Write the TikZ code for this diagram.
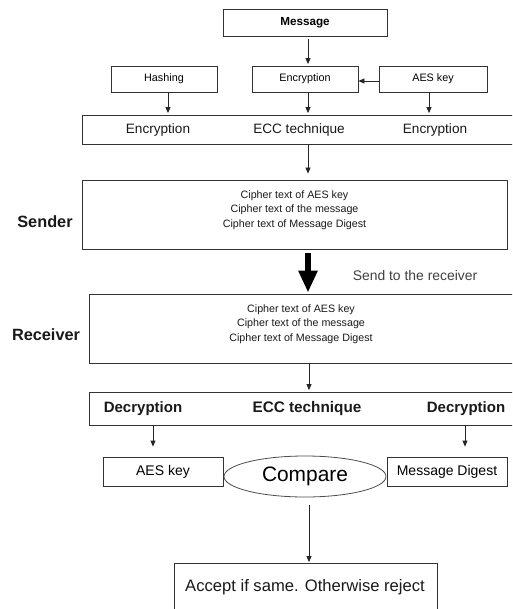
\documentclass[tikz,border=0pt]{standalone}
\usepackage{fontspec}
\setmainfont{Liberation Sans}
\usetikzlibrary{arrows.meta,shapes.geometric,calc}
\newcommand{\pxf}[1]{\fontsize{#1}{#1}\selectfont}
\begin{document}
\begin{tikzpicture}[x=1pt,y=-1pt,
  box/.style={draw=black!80, line width=0.8pt, inner sep=0pt, rectangle},
  arr/.style={draw=black!85, line width=0.8pt, -{Triangle[length=6pt,width=5pt]}, shorten <=3pt, shorten >=1.5pt},
  bigarr/.style={draw=black, line width=6pt, -{Triangle[length=22pt,width=18pt]}},
  txt/.style={inner sep=0pt, text=black!90},
  cipher/.style={txt, font=\fontsize{10.7}{14.3}\selectfont, align=center}]
\useasboundingbox (0,0) rectangle (512,609);
\clip (0,0) rectangle (512,609);

% top part
\node[box, minimum width=164, minimum height=27, font=\pxf{11.7}\bfseries] (msg) at (305,22.5) {Message};
\node[box, minimum width=106, minimum height=26, font=\pxf{10.8}] (hash) at (164,79) {Hashing};
\node[box, minimum width=106, minimum height=26, font=\pxf{10.8}] (enc) at (305,79) {Encryption};
\node[box, minimum width=108, minimum height=26, font=\pxf{10.8}] (aes) at (433,79) {AES key};

\node[box, minimum width=440, minimum height=29] (erow) at (302,129.5) {};
\node[txt, font=\pxf{13.6}] (e1) at (158,130) {Encryption};
\node[txt, font=\pxf{13.6}] (ecc) at (299,130) {ECC technique};
\node[txt, font=\pxf{13.6}] (e2) at (435,130) {Encryption};

\draw[arr] ([xshift=3pt]msg.south) -- ([xshift=3pt]enc.north);
\draw[arr, shorten <=0pt, shorten >=0pt] ([yshift=-2pt]aes.west) -- ([yshift=-2pt]enc.east);
\draw[arr, shorten <=0pt] ([xshift=4pt]hash.south) -- ([xshift=4pt]hash.south |- erow.north);
\draw[arr, shorten <=0pt] ([xshift=3pt]enc.south) -- ([xshift=3pt]enc.south |- erow.north);
\draw[arr, shorten <=0pt] ([xshift=-4pt]aes.south) -- ([xshift=-4pt]aes.south |- erow.north);

% sender
\node[box, minimum width=425, minimum height=69] (sbox) at (294.5,214.5) {};
\node[cipher] (stext) at ([yshift=4.5pt]sbox.center)
  {Cipher text of AES key\\Cipher text of the message\\Cipher text of Message Digest};
\node[txt, font=\pxf{16.3}\bfseries] (slab) at (45,222) {Sender};
\draw[arr, shorten <=0pt, shorten >=6pt] ([xshift=6pt]erow.south) -- ([xshift=6pt]erow.south |- sbox.north);

% transfer
\node[box, minimum width=433, minimum height=69] (rbox) at (305.5,328.5) {};
\draw[bigarr, shorten <=4pt, shorten >=1pt] ([xshift=13.5pt]sbox.south) -- ([xshift=13.5pt]sbox.south |- rbox.north);
\node[txt, font=\pxf{13.9}, text=black!75] (send) at (415,276) {Send to the receiver};

% receiver
\node[cipher] (rtext) at ([xshift=-4.5pt,yshift=4.5pt]rbox.center)
  {Cipher text of AES key\\Cipher text of the message\\Cipher text of Message Digest};
\node[txt, font=\pxf{16.3}\bfseries] (rlab) at (46,335) {Receiver};

\node[box, minimum width=433, minimum height=33] (drow) at (305.5,408.5) {};
\node[txt, font=\pxf{15}\bfseries] (dL) at (143,409) {Decryption};
\node[txt, font=\pxf{15.3}\bfseries] (ecc2) at (307,409) {ECC technique};
\node[txt, font=\pxf{15}\bfseries] (dR) at (466,409) {Decryption};
\draw[arr, shorten <=0pt] ([xshift=3.5pt]rbox.south) -- ([xshift=3.5pt]rbox.south |- drow.north);

\node[box, minimum width=120, minimum height=29, font=\pxf{14}] (aes2) at (163,471.5) {AES key};
\node[ellipse, draw=black!70, line width=0.8pt, inner sep=0pt, minimum width=162, minimum height=41, font=\pxf{20.9}] (cmp) at (305,476.5) {Compare};
\node[box, minimum width=120, minimum height=29, font=\pxf{14}] (md) at (447,471.5) {Message Digest};

\draw[arr, shorten <=0pt, shorten >=10pt] ([xshift=-10pt]aes2.north |- drow.south) -- ([xshift=-10pt]aes2.north);
\draw[arr, shorten <=0pt, shorten >=10pt] ([xshift=18pt]md.north |- drow.south) -- ([xshift=18pt]md.north);

\node[box, minimum width=263, minimum height=62] (acc) at (305.5,594) {};
\node[txt, font=\pxf{16.6}] (acctext) at (305,587) {Accept if same. Otherwise reject};
\draw[arr, shorten <=8pt, shorten >=0.5pt] ([xshift=4pt]cmp.south) -- ([xshift=4pt]cmp.south |- acc.north);
\end{tikzpicture}
\end{document}
